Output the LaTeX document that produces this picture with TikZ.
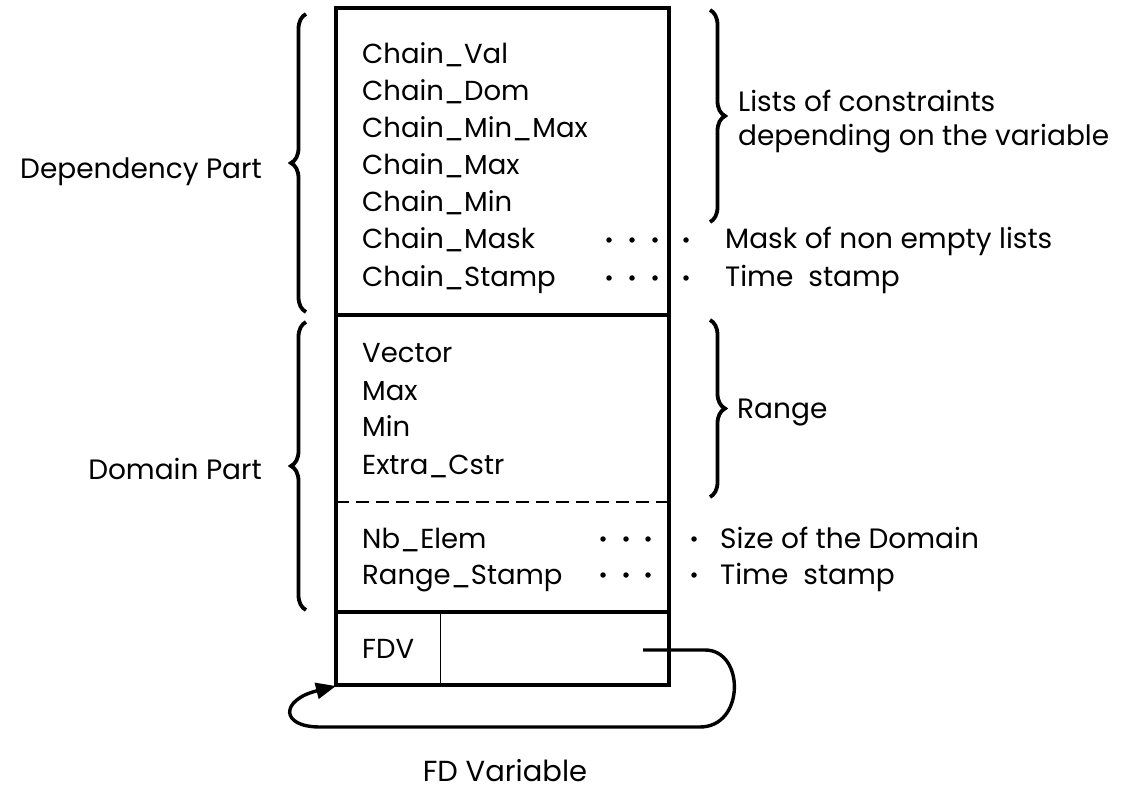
\documentclass[tikz,border=0pt]{standalone}
\usepackage{fontspec}
\setmainfont{Poppins}
\usetikzlibrary{decorations.pathreplacing,arrows.meta}
\begin{document}
\begin{tikzpicture}[x=1pt,y=-1pt,
  field/.style={anchor=base west,inner sep=0pt,font=\fontsize{27.5}{27.5}\selectfont},
  note/.style={anchor=base west,inner sep=0pt,font=\fontsize{28}{28}\selectfont},
  part/.style={anchor=base east,inner sep=0pt,font=\fontsize{28}{28}\selectfont},
  frame/.style={line width=3.6pt},
  curly/.style={line width=3.8pt,decorate,decoration={brace,amplitude=15pt}},
  leader/.style={fill=black,circle,inner sep=0pt,minimum size=5.5pt}]
\useasboundingbox (0,0) rectangle (1130,791);
% box
\draw[frame] (336,8) rectangle (669,685);
\draw[frame] (336,315) -- (669,315);
\draw[frame] (336,612) -- (669,612);
\draw[line width=2pt,dash pattern=on 13pt off 7pt] (336,502) -- (669,502);
\draw[line width=1pt] (440,612) -- (440,685);
% fields
\node[field] (cv) at (362,64) {Chain\_Val};
\node[field] (cd) at (362,101) {Chain\_Dom};
\node[field] (cmm) at (362,138) {Chain\_Min\_Max};
\node[field] (cmx) at (362,175) {Chain\_Max};
\node[field] (cmn) at (362,212) {Chain\_Min};
\node[field] (cmk) at (362,249) {Chain\_Mask};
\node[field] (cst) at (362,287) {Chain\_Stamp};
\node[field] (vec) at (362,363) {Vector};
\node[field] (max) at (362,401) {Max};
\node[field] (min) at (362,437) {Min};
\node[field] (ext) at (362,474) {Extra\_Cstr};
\node[field] (nbe) at (362,548) {Nb\_Elem};
\node[field] (rst) at (362,584) {Range\_Stamp};
\node[field] (fdv) at (362,658) {FDV};
% right notes
\node[note] (lc1) at (738,112) {Lists of constraints};
\node[note] (lc2) at (738,146) {depending on the variable};
\node[note] (mask) at (725,249) {Mask of non empty lists};
\node[note] (ts1) at (725,287) {Time\ \ stamp};
\node[note] (rng) at (737,419) {Range};
\node[note] (size) at (720,548) {Size of the Domain};
\node[note] (ts2) at (720,584) {Time\ \ stamp};
% left parts
\node[part] (dep) at (262,179) {Dependency Part};
\node[part] (dom) at (262,479) {Domain Part};
\node[anchor=base,inner sep=0pt,font=\fontsize{29}{29}\selectfont] (fdvar) at (505,781) {FD Variable};
% braces
\draw[curly] (306,312) -- (306,14);
\draw[curly] (306,610) -- (306,322);
\draw[curly] (710,10) -- (710,222);
\draw[curly] (710,320) -- (710,497);
% dotted leaders
\foreach \y in {240,278} {
  \foreach \x in {609,632,655,686} { \node[leader] at (\x,\y) {}; }
}
\foreach \y in {539,575} {
  \foreach \x in {603,626,648,694} { \node[leader] at (\x,\y) {}; }
}
% self pointer
\coordinate (ptr) at (643,650);
\coordinate (corner) at (336,686);
\draw[line width=3.4pt,-{Triangle[length=20pt,width=16pt]}] (ptr) -- (705,650)
  .. controls (745,650) and (745,727) .. (700,727) -- (320,727)
  .. controls (280,727) and (280,700) .. (corner);
\end{tikzpicture}
\end{document}
